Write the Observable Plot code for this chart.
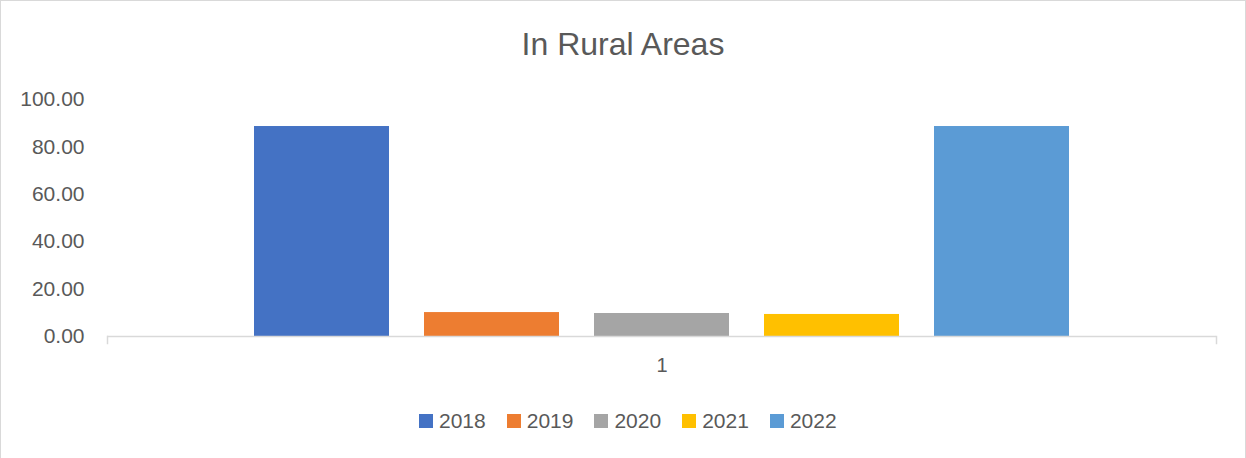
<!DOCTYPE html>
<html>
<head>
<meta charset="utf-8">
<script src="https://cdn.jsdelivr.net/npm/d3@7"></script>
<script src="https://cdn.jsdelivr.net/npm/@observablehq/plot@0.6"></script>
<style>
  html, body { margin: 0; padding: 0; background: #fff; }
  #chart { position: relative; width: 1246px; height: 458px; overflow: hidden; font-family: "Liberation Sans", Arial, sans-serif; color: #595959; }
  #border { position: absolute; left: 0; top: 0; right: 0; bottom: -2px; border: 1px solid #d9d9d9; pointer-events: none; }
  #title { position: absolute; left: 0; width: 1246px; top: 24px; line-height: 40px; text-align: center; font-size: 32px; color: #595959; }
  #plot { position: absolute; left: 0; top: 0; }
  #legend { position: absolute; left: 419px; top: 410px; display: flex; align-items: center; font-size: 21px; line-height: 22px; color: #595959; }
  .item { display: flex; align-items: center; margin-right: 21px; }
  .sw { width: 14px; height: 14px; margin-right: 6px; }
</style>
</head>
<body>
<div id="chart">
  <div id="title"></div>
  <div id="plot"></div>
  <div id="legend"></div>
  <div id="border"></div>
</div>
<script>
const title = "In Rural Areas";
const category = "1";
const years = ["2018", "2019", "2020", "2021", "2022"];
const values = [88.6, 10.1, 9.7, 9.3, 88.6];
const colors = ["#4472C4", "#ED7D31", "#A5A5A5", "#FFC000", "#5B9BD5"];
const yTicks = [0, 20, 40, 60, 80, 100];

const data = years.map((y, i) => ({category, year: y, value: values[i]}));

document.getElementById("title").textContent = title;

const H = 380, MT = 99, MB = 44;
const chart = Plot.plot({
  width: 1246,
  height: H,
  marginTop: MT,
  marginBottom: MB,
  marginLeft: 107,
  marginRight: 30,
  style: {fontFamily: "Liberation Sans, Arial, sans-serif", fontSize: "21px", color: "#595959", background: "transparent"},
  fx: {domain: [category], padding: 0, label: null, axis: null},
  x: {domain: years, paddingInner: 0.208, paddingOuter: 0.856, axis: null},
  y: {domain: [0, 100], axis: null},
  color: {domain: years, range: colors},
  marks: [
    Plot.barY(data, {fx: "category", x: "year", y: "value", fill: "year"}),
    Plot.ruleY([0], {stroke: "#d9d9d9", strokeWidth: 1.5}),
    Plot.frame({anchor: "left", stroke: "#d9d9d9", strokeWidth: 1.5, insetTop: H - MT - MB, insetBottom: -7}),
    Plot.frame({anchor: "right", stroke: "#d9d9d9", strokeWidth: 1.5, insetTop: H - MT - MB, insetBottom: -7}),
    Plot.axisY({ticks: yTicks, tickFormat: d3.format(".2f"), tickSize: 0, tickPadding: 23, label: null, fontSize: 21, fill: "#595959"}),
    Plot.axisFx({anchor: "bottom", tickSize: 0, tickPadding: 21, label: null, fontSize: 20, fill: "#595959"})
  ]
});
document.getElementById("plot").appendChild(chart);

const legend = document.getElementById("legend");
years.forEach((y, i) => {
  const it = document.createElement("div");
  it.className = "item";
  const sw = document.createElement("div");
  sw.className = "sw";
  sw.style.background = colors[i];
  const lab = document.createElement("span");
  lab.textContent = y;
  it.appendChild(sw);
  it.appendChild(lab);
  legend.appendChild(it);
});
</script>
</body>
</html>
